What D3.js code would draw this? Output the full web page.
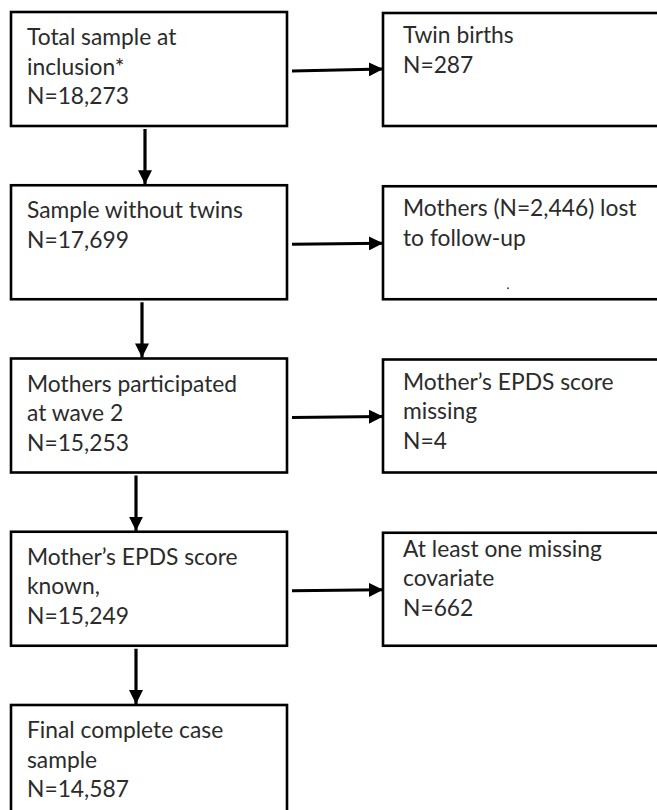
<!DOCTYPE html>
<html>
<head>
<meta charset="utf-8">
<script src="https://cdn.jsdelivr.net/npm/d3@7"></script>
<style>
  body { margin: 0; background: #fff; }
  svg text { font-family: Lato, "Open Sans", sans-serif; fill: #2b2b2b; }
</style>
</head>
<body>
<svg id="chart"></svg>
<script>
// flow stages (left column) and exclusions (right column)
const stageLabels = [
  ['Total sample at', 'inclusion*'],
  ['Sample without twins'],
  ['Mothers participated', 'at wave 2'],
  ['Mother\u2019s EPDS score', 'known,'],
  ['Final complete case', 'sample']
];
const stageCounts = ['18,273', '17,699', '15,253', '15,249', '14,587'];

const exclusionLabels = [
  ['Twin births'],
  ['Mothers (N=2,446) lost', 'to follow-up'],
  ['Mother\u2019s EPDS score', 'missing'],
  ['At least one missing', 'covariate']
];
const exclusionCounts = ['287', null, '4', '662'];

const width = 657, height = 810;
const svg = d3.select('#chart').attr('width', width).attr('height', height);

// rows: top of each box
const rowY = d3.scalePoint()
  .domain(d3.range(stageLabels.length))
  .range([12, 705]);
const boxH = 114;
const leftX = 11, leftW = 276;
const rightX = 383, rightW = 290;
const lineH = 29.5;
const downX = [145, 142, 136, 136];

svg.append('defs').append('marker')
  .attr('id', 'head')
  .attr('viewBox', '0 0 10 10')
  .attr('refX', 10).attr('refY', 5)
  .attr('markerWidth', 4.4).attr('markerHeight', 4.4)
  .attr('markerUnits', 'strokeWidth')
  .attr('orient', 'auto')
  .append('path')
  .attr('d', 'M0,0 L10,5 L0,10 Z')
  .attr('fill', '#000');

function textLines(g, lines, x, y0) {
  lines.forEach(function(t, i) {
    g.append('text')
      .attr('x', x)
      .attr('y', y0 + i * lineH)
      .attr('font-size', 22.8)
      .text(t);
  });
}

// left column boxes
const stages = svg.selectAll('g.stage')
  .data(stageLabels)
  .join('g')
  .attr('class', 'stage');

stages.append('rect')
  .attr('x', leftX)
  .attr('y', (d, i) => rowY(i))
  .attr('width', leftW)
  .attr('height', (d, i) => i === stageLabels.length - 1 ? 200 : boxH)
  .attr('fill', '#fff')
  .attr('stroke', '#000')
  .attr('stroke-width', 2.6);

stages.each(function(d, i) {
  const lines = d.concat(['N=' + stageCounts[i]]);
  textLines(d3.select(this), lines, leftX + 16, rowY(i) + 33);
});

// right column boxes
const excl = svg.selectAll('g.excl')
  .data(exclusionLabels)
  .join('g')
  .attr('class', 'excl');

excl.append('rect')
  .attr('x', rightX)
  .attr('y', (d, i) => rowY(i) + 1)
  .attr('width', rightW)
  .attr('height', boxH - 1)
  .attr('fill', '#fff')
  .attr('stroke', '#000')
  .attr('stroke-width', 2.6);

excl.each(function(d, i) {
  const lines = exclusionCounts[i] ? d.concat(['N=' + exclusionCounts[i]]) : d;
  const off = i === 3 ? 25 : 31;
  textLines(d3.select(this), lines, rightX + 20, rowY(i) + off);
});

// small blue speck inside the lost-to-follow-up box
svg.append('circle')
  .attr('cx', 508).attr('cy', rowY(1) + 103)
  .attr('r', 1).attr('fill', '#3344dd');

// horizontal arrows
svg.selectAll('line.side')
  .data(exclusionLabels)
  .join('line')
  .attr('class', 'side')
  .attr('x1', leftX + leftW + 5)
  .attr('x2', rightX)
  .attr('y1', (d, i) => rowY(i) + 59)
  .attr('y2', (d, i) => rowY(i) + (i === 0 ? 57 : 58))
  .attr('stroke', '#000')
  .attr('stroke-width', 3.2)
  .attr('marker-end', 'url(#head)');

// vertical arrows
svg.selectAll('line.down')
  .data(d3.range(stageLabels.length - 1))
  .join('line')
  .attr('class', 'down')
  .attr('x1', i => downX[i])
  .attr('x2', i => downX[i])
  .attr('y1', i => rowY(i) + boxH + 3)
  .attr('y2', i => rowY(i + 1) - 1)
  .attr('stroke', '#000')
  .attr('stroke-width', 3.2)
  .attr('marker-end', 'url(#head)');
</script>
</body>
</html>
